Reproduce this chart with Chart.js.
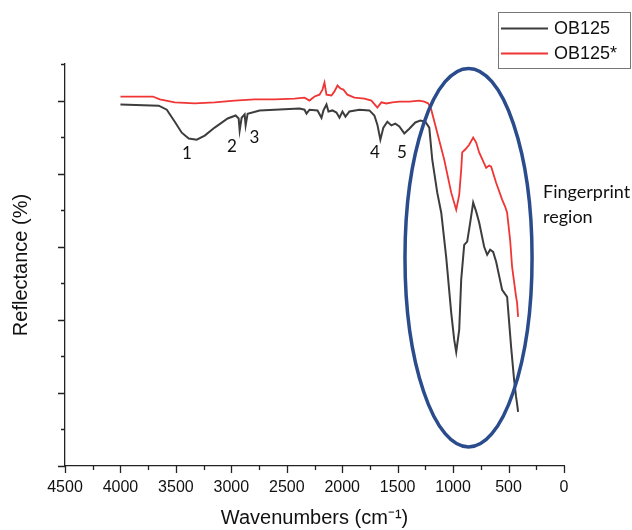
<!DOCTYPE html>
<html lang="en">
<head>
  <meta charset="UTF-8">
  <title>FTIR OB125</title>
  <script src="https://cdn.jsdelivr.net/npm/chart.js@4.4.1/dist/chart.umd.min.js"></script>
  <style>
    body { margin: 0; background: #fff; }
  </style>
</head>
<body>
  <canvas id="chart" width="632" height="530"></canvas>
  <script>
    // wavenumbers (cm-1) and reflectance
    const wnOB125 = [4000, 3654, 3582, 3510, 3447, 3384, 3312, 3240, 3150, 3033, 2961, 2934, 2925, 2907, 2880,
      2871, 2853, 2745, 2610, 2385, 2340, 2322, 2295, 2223, 2187, 2169, 2142, 2124, 2088, 2052,
      2025, 1998, 1971, 1935, 1845, 1755, 1710, 1683, 1656, 1629, 1593, 1557, 1521, 1485, 1440,
      1395, 1341, 1296, 1251, 1215, 1188, 1143, 1107, 1062, 1017, 990, 972, 945, 927, 900,
      873, 846, 819, 792, 765, 720, 693, 666, 639, 612, 558, 513, 477, 450, 432, 423, 414];
    const refOB125 = [98.9, 98.6, 97.5, 94.2, 91.2, 89.6, 89.3, 90.4, 92.6, 95.1, 95.9, 95.1, 91.8, 95.3, 96.2,
      93.2, 96.4, 97.3, 97.5, 97.8, 97.5, 96.4, 97.5, 97.3, 95.3, 97.3, 98.9, 97.0, 97.3, 96.7,
      95.3, 97.0, 95.6, 97.0, 97.5, 97.3, 95.9, 93.4, 89.3, 92.6, 94.2, 93.2, 93.7, 92.9, 91.0,
      92.3, 94.0, 94.5, 94.2, 92.6, 83.8, 74.8, 69.3, 57.0, 41.9, 34.5, 31.2, 37.3, 51.0, 60.5,
      61.4, 66.6, 72.1, 69.6, 66.6, 60.0, 57.8, 59.2, 58.6, 55.9, 48.2, 46.3, 32.6, 23.6, 18.9, 17.0, 14.8];

    const wnOB125s = [4000, 3708, 3645, 3510, 3330, 3150, 2970, 2790, 2610, 2430, 2340, 2295, 2250, 2205, 2178,
      2160, 2142, 2097, 2070, 2043, 2016, 1989, 1953, 1890, 1800, 1737, 1683, 1647, 1602, 1548,
      1485, 1395, 1305, 1260, 1224, 1197, 1143, 1080, 1017, 972, 945, 927, 918, 891, 855,
      819, 792, 765, 702, 675, 657, 612, 558, 531, 513, 486, 468, 432, 423, 414];
    const refOB125s = [101.1, 101.1, 100.3, 99.5, 99.2, 99.5, 100.0, 100.3, 100.3, 100.5, 100.8, 100.0, 101.1, 101.6, 103.0,
      104.9, 101.6, 101.4, 102.5, 104.1, 103.3, 103.0, 101.6, 100.8, 100.5, 100.0, 98.1, 99.5, 99.2, 99.5,
      99.7, 99.7, 100.0, 99.7, 99.2, 97.5, 91.2, 83.8, 74.8, 70.1, 74.2, 81.1, 85.8, 86.6, 87.9,
      89.9, 88.5, 85.8, 81.6, 82.2, 81.9, 77.5, 72.9, 71.0, 69.3, 61.9, 54.5, 46.3, 44.7, 40.8];

    const seriesNames = ['OB125', 'OB125*'];

    // band numbers
    const peakLabels = ['1', '2', '3', '4', '5'];
    const peakX = [3400, 2994, 2791, 1704, 1461];
    const peakY = [85.5, 87.4, 90.0, 85.8, 85.8];

    // fingerprint ellipse (data units)
    const regionCenter = [861, 57.0];
    const regionRadius = [573, 51.8];
    const regionText = ['Fingerprint', 'region'];
    const regionTextX = 189;
    const regionTextY = [73.2, 66.6];

    const axisFont = 'Liberation Sans, Arial, sans-serif';

    const toPoints = (xs, ys) => xs.map((x, i) => ({ x: x, y: ys[i] }));

    const extras = {
      id: 'extras',
      afterDraw(chart) {
        const ctx = chart.ctx;
        const xs = chart.scales.x, ys = chart.scales.y;
        const area = chart.chartArea;
        ctx.save();

        // tick marks, majors longer than minors
        ctx.strokeStyle = '#222';
        ctx.lineWidth = 1.3;
        ctx.beginPath();
        for (let v = 0; v <= 4500; v += 250) {
          const px = Math.round(xs.getPixelForValue(v)) + 0.5;
          const len = v % 500 === 0 ? 7 : 4;
          ctx.moveTo(px, area.bottom);
          ctx.lineTo(px, area.bottom + len);
        }
        for (let v = 0; v <= 110; v += 10) {
          const py = Math.round(ys.getPixelForValue(v)) + 0.5;
          const len = v % 20 === 0 ? 7 : 4;
          ctx.moveTo(area.left, py);
          ctx.lineTo(area.left - len, py);
        }
        ctx.stroke();

        // ellipse
        const cx = xs.getPixelForValue(regionCenter[0]);
        const cy = ys.getPixelForValue(regionCenter[1]);
        const rx = Math.abs(xs.getPixelForValue(regionCenter[0] + regionRadius[0]) - cx);
        const ry = Math.abs(ys.getPixelForValue(regionCenter[1] + regionRadius[1]) - cy);
        ctx.strokeStyle = '#2b4c8c';
        ctx.lineWidth = 3.5;
        ctx.beginPath();
        ctx.ellipse(cx, cy, rx, ry, 0, 0, Math.PI * 2);
        ctx.stroke();

        // band numbers
        ctx.fillStyle = '#111';
        ctx.font = '17px Lato';
        ctx.textAlign = 'center';
        ctx.textBaseline = 'middle';
        peakLabels.forEach((t, i) => {
          ctx.fillText(t, xs.getPixelForValue(peakX[i]), ys.getPixelForValue(peakY[i]));
        });

        ctx.font = '18px Lato';
        ctx.textAlign = 'left';
        ctx.textBaseline = 'alphabetic';
        regionText.forEach((t, i) => {
          ctx.fillText(t, xs.getPixelForValue(regionTextX), ys.getPixelForValue(regionTextY[i]));
        });

        // legend box
        ctx.strokeStyle = '#777';
        ctx.lineWidth = 1;
        ctx.strokeRect(498.5, 12.5, 132, 56);
        ctx.font = '18px ' + axisFont;
        ctx.textBaseline = 'middle';
        chart.data.datasets.forEach((ds, i) => {
          const y = 28.5 + i * 25;
          ctx.strokeStyle = ds.borderColor;
          ctx.lineWidth = ds.borderWidth;
          ctx.beginPath();
          ctx.moveTo(501, y);
          ctx.lineTo(548, y);
          ctx.stroke();
          ctx.fillStyle = '#111';
          ctx.fillText(ds.label, 554, y + 0.5);
        });
        ctx.restore();
      }
    };

    const ctx = document.getElementById('chart').getContext('2d');
    const myChart = new Chart(ctx, {
      type: 'scatter',
      data: {
        datasets: [{
          label: seriesNames[0],
          data: toPoints(wnOB125, refOB125),
          showLine: true,
          borderColor: '#3d3d3d',
          borderWidth: 2,
          pointRadius: 0,
          tension: 0
        }, {
          label: seriesNames[1],
          data: toPoints(wnOB125s, refOB125s),
          showLine: true,
          borderColor: '#f03535',
          borderWidth: 1.8,
          pointRadius: 0,
          tension: 0
        }]
      },
      options: {
        responsive: false,
        animation: false,
        devicePixelRatio: 1,
        layout: { padding: { top: 64, right: 68, left: 0, bottom: 0 } },
        plugins: { legend: { display: false }, tooltip: { enabled: false } },
        scales: {
          x: {
            type: 'linear',
            reverse: true,
            min: 0,
            max: 4500,
            afterFit: s => { s.height = 64; },
            ticks: {
              stepSize: 500, color: '#111', font: { family: axisFont, size: 16 }, padding: 12,
              maxRotation: 0, autoSkip: false, callback: v => String(v)
            },
            grid: { drawOnChartArea: false, drawTicks: false },
            border: { color: '#222', width: 1.3 },
            title: { display: true, text: 'Wavenumbers (cm⁻¹)', color: '#111', font: { family: axisFont, size: 20 }, padding: 0 }
          },
          y: {
            min: 0,
            max: 110,
            afterFit: s => { s.width = 65; },
            ticks: { display: false },
            grid: { drawOnChartArea: false, drawTicks: false },
            border: { color: '#222', width: 1.3 },
            title: { display: true, text: 'Reflectance (%)', color: '#111', font: { family: axisFont, size: 20 }, padding: { top: 9, bottom: 0 } }
          }
        }
      },
      plugins: [extras]
    });
  </script>
</body>
</html>
